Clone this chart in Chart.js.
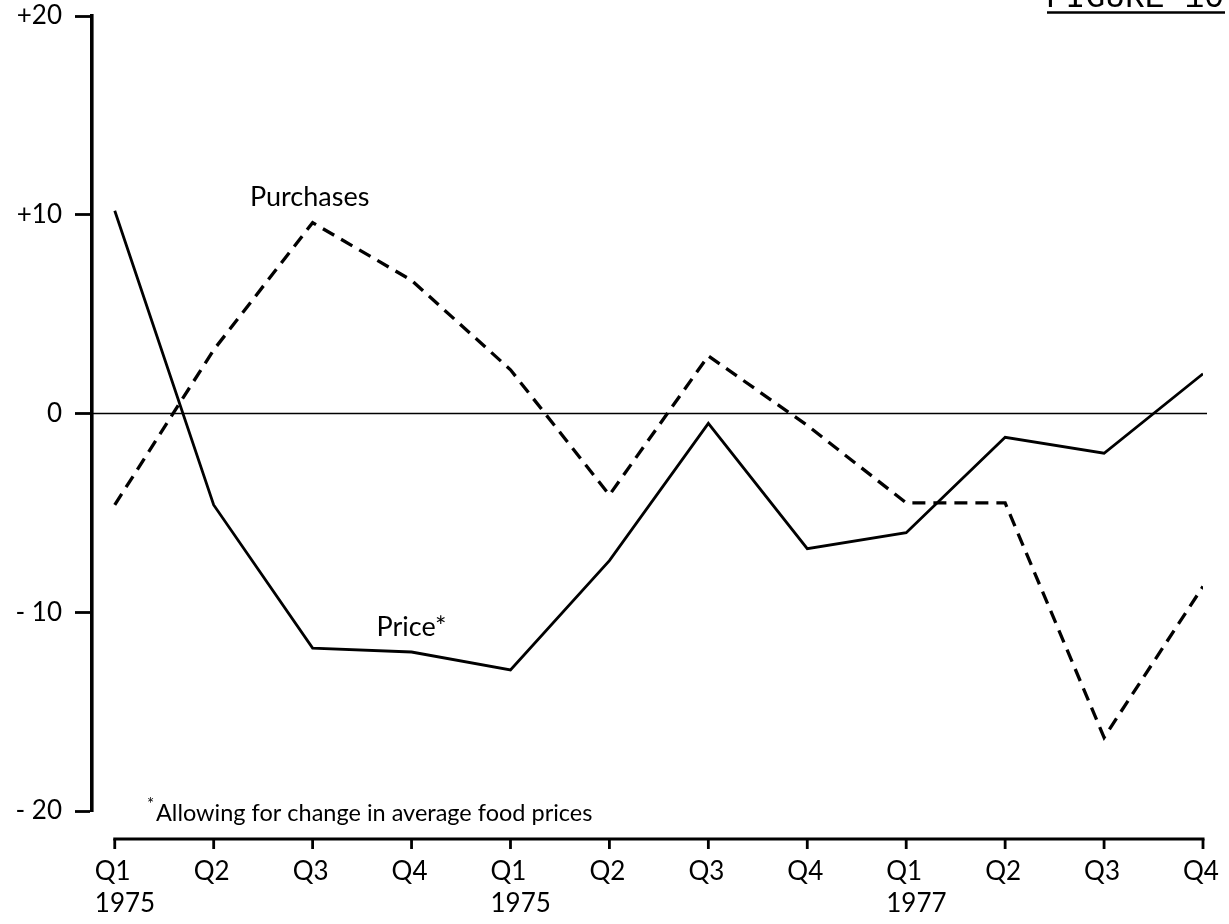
<!DOCTYPE html>
<html>
<head>
<meta charset="utf-8">
<script src="https://cdn.jsdelivr.net/npm/chart.js@4.4.1/dist/chart.umd.min.js"></script>
<style>
  html, body { margin: 0; padding: 0; background: #ffffff; }
  #wrap { width: 1229px; height: 924px; position: relative; }
  canvas { display: block; }
</style>
</head>
<body>
<div id="wrap"><canvas id="chart" width="1229" height="924"></canvas></div>
<script>
// Quarterly categories and the year printed under the first quarter of each year
const categories = ['Q1', 'Q2', 'Q3', 'Q4', 'Q1', 'Q2', 'Q3', 'Q4', 'Q1', 'Q2', 'Q3', 'Q4'];
const yearLabels = ['1975', '', '', '', '1975', '', '', '', '1977', '', '', ''];

// Percentage change series
const price = [10.2, -4.6, -11.8, -12.0, -12.9, -7.4, -0.5, -6.8, -6.0, -1.2, -2.0, 2.0];
const purchases = [-4.6, 3.2, 9.6, 6.7, 2.2, -4.1, 2.9, -0.6, -4.5, -4.5, -16.3, -8.7];

// Y axis ticks and their printed labels
const yTicks = [20, 10, 0, -10, -20];
const yTickLabels = ['+20', '+10', '0', '- 10', '- 20'];

const FONT = 'Lato, "Open Sans", "DejaVu Sans", sans-serif';

const toPoints = (arr) => arr.map((v, i) => ({ x: i, y: v }));

// Draws the zero line, the detached quarter axis, series captions, footnote and figure heading
const decorations = {
  id: 'decorations',
  beforeDatasetsDraw(chart) {
    const { ctx, chartArea, scales } = chart;
    const y0 = scales.y.getPixelForValue(0);
    ctx.save();
    ctx.strokeStyle = '#000';
    ctx.lineWidth = 1.7;
    ctx.beginPath();
    ctx.moveTo(chartArea.left, y0);
    ctx.lineTo(chartArea.right + 4, y0);
    ctx.stroke();
    ctx.restore();
  },
  afterDatasetsDraw(chart) {
    const { ctx, chartArea, scales } = chart;
    const xs = scales.x;
    const ys = scales.y;
    ctx.save();
    ctx.fillStyle = '#000';
    ctx.strokeStyle = '#000';

    // quarter axis below the plot
    const axisY = chartArea.bottom + 28;
    const first = xs.getPixelForValue(0);
    const last = xs.getPixelForValue(categories.length - 1);
    ctx.lineWidth = 3.2;
    ctx.beginPath();
    ctx.moveTo(first - 1.5, axisY);
    ctx.lineTo(last + 1.5, axisY);
    ctx.stroke();
    ctx.lineWidth = 2.8;
    ctx.font = '26px ' + FONT;
    ctx.textBaseline = 'middle';
    categories.forEach((c, i) => {
      const px = xs.getPixelForValue(i);
      ctx.beginPath();
      ctx.moveTo(px, axisY);
      ctx.lineTo(px, axisY + 10);
      ctx.stroke();
      ctx.textAlign = 'center';
      const w = ctx.measureText(c).width;
      ctx.fillText(c, px - 2, axisY + 33);
      if (yearLabels[i]) {
        ctx.textAlign = 'left';
        ctx.fillText(yearLabels[i], px - 2 - w / 2, axisY + 65);
      }
    });

    // series captions
    ctx.font = '27px ' + FONT;
    ctx.textAlign = 'center';
    ctx.textBaseline = 'middle';
    ctx.fillText('Purchases', xs.getPixelForValue(1.97), ys.getPixelForValue(10.9));
    ctx.fillText('Price*', xs.getPixelForValue(3.0), ys.getPixelForValue(-10.75));

    // footnote
    ctx.textAlign = 'left';
    ctx.font = '23.5px ' + FONT;
    ctx.fillText('Allowing for change in average food prices', 156, chartArea.bottom + 2);
    ctx.font = '17px ' + FONT;
    ctx.fillText('*', 147, chartArea.bottom - 6);

    // figure heading, running off the top edge
    ctx.font = '33px "Liberation Mono", "DejaVu Sans Mono", monospace';
    ctx.textBaseline = 'alphabetic';
    ctx.textAlign = 'right';
    ctx.fillText('FIGURE 10', 1224, 7);
    ctx.lineWidth = 2.5;
    ctx.beginPath();
    ctx.moveTo(1047, 12.5);
    ctx.lineTo(1225, 12.5);
    ctx.stroke();
    ctx.restore();
  }
};

const whiteBg = {
  id: 'whiteBg',
  beforeDraw(chart) {
    const { ctx, width, height } = chart;
    ctx.save();
    ctx.fillStyle = '#fff';
    ctx.fillRect(0, 0, width, height);
    ctx.restore();
  }
};

new Chart(document.getElementById('chart'), {
  type: 'line',
  data: {
    datasets: [
      {
        label: 'Price*',
        data: toPoints(price),
        borderColor: '#000',
        borderWidth: 2.8,
        pointRadius: 0,
        tension: 0,
        fill: false
      },
      {
        label: 'Purchases',
        data: toPoints(purchases),
        borderColor: '#000',
        borderWidth: 3.3,
        borderDash: [13, 8],
        pointRadius: 0,
        tension: 0,
        fill: false
      }
    ]
  },
  options: {
    responsive: false,
    devicePixelRatio: 1,
    animation: false,
    layout: { padding: { top: 16, bottom: 113, left: 0, right: 26 } },
    plugins: {
      legend: { display: false },
      tooltip: { enabled: false },
      title: { display: false }
    },
    scales: {
      x: {
        type: 'linear',
        display: false,
        min: -0.23,
        max: categories.length - 1
      },
      y: {
        type: 'linear',
        min: -20,
        max: 20,
        afterBuildTicks(scale) {
          scale.ticks = yTicks.map(v => ({ value: v }));
        },
        afterFit(scale) {
          scale.width = 92;
          scale.paddingTop = 0;
          scale.paddingBottom = 0;
        },
        border: { display: true, color: '#000', width: 3.6 },
        grid: {
          drawOnChartArea: false,
          drawTicks: true,
          tickLength: 17,
          tickColor: '#000',
          tickWidth: 2.8
        },
        ticks: {
          color: '#000',
          padding: 13,
          font: { family: FONT, size: 26 },
          callback(value) {
            const idx = yTicks.indexOf(value);
            return idx >= 0 ? yTickLabels[idx] : '';
          }
        }
      }
    }
  },
  plugins: [whiteBg, decorations]
});
</script>
</body>
</html>
